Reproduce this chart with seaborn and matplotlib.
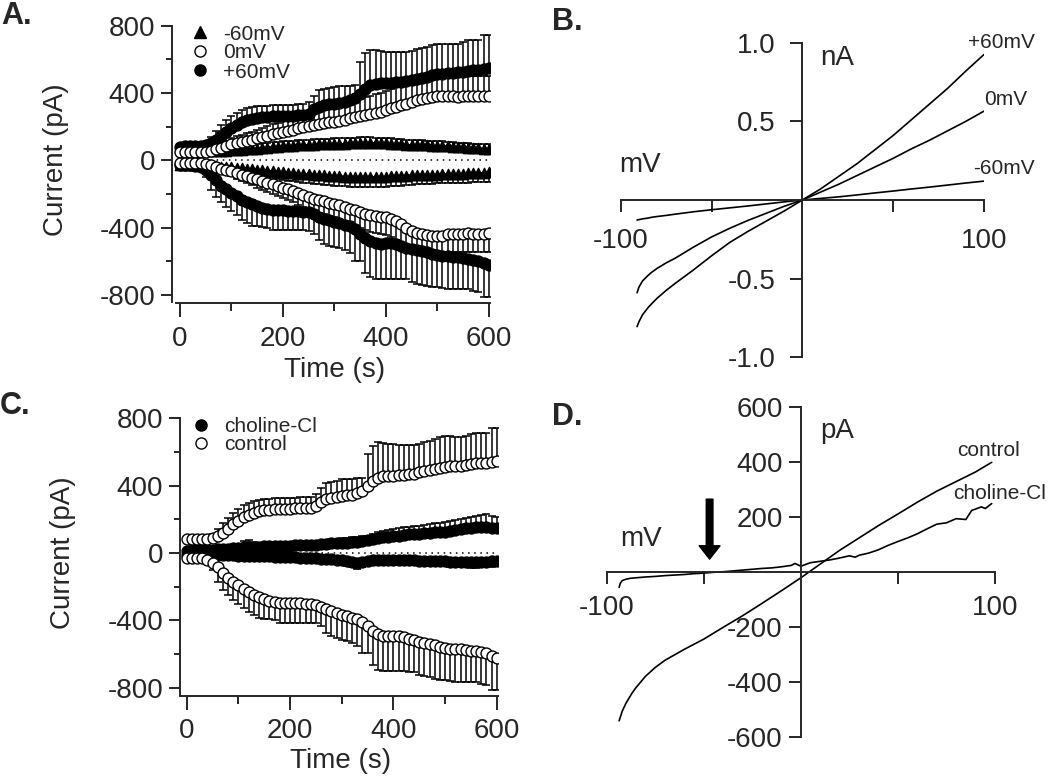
import numpy as np
import matplotlib
matplotlib.use("Agg")
import matplotlib.pyplot as plt
from matplotlib.lines import Line2D
import seaborn as sns

sns.set_style("ticks")
plt.rcParams["font.family"] = ["Liberation Sans", "DejaVu Sans"]
plt.rcParams["axes.unicode_minus"] = False

# =====================================================
# Data: time courses (A, C)
# =====================================================

time_s = [0, 10, 20, 30, 40, 50, 60, 70, 80, 90,
          100, 110, 120, 130, 140, 150, 160, 170, 180, 190,
          200, 210, 220, 230, 240, 250, 260, 270, 280, 290,
          300, 310, 320, 330, 340, 350, 360, 370, 380, 390,
          400, 410, 420, 430, 440, 450, 460, 470, 480, 490,
          500, 510, 520, 530, 540, 550, 560, 570, 580, 590,
          600]

# +60mV (same recording as "control" in C)
p60_up = [80, 82, 82, 84, 85, 90, 100, 120, 145, 170,
          192, 212, 228, 240, 248, 254, 258, 260, 262, 263,
          264, 265, 266, 268, 270, 278, 305, 318, 326, 332,
          337, 342, 347, 356, 368, 396, 426, 445, 456, 458,
          460, 462, 466, 468, 472, 478, 486, 490, 496, 504,
          512, 514, 516, 518, 522, 526, 532, 534, 536, 540,
          546]
p60_up_err = [12, 12, 12, 12, 14, 20, 40, 55, 65, 68,
              70, 70, 70, 70, 68, 66, 65, 64, 64, 64,
              64, 64, 64, 64, 64, 70, 80, 100, 98, 96,
              100, 98, 95, 88, 80, 190, 210, 212, 200, 190,
              185, 180, 178, 175, 172, 170, 175, 178, 180, 184,
              182, 178, 175, 172, 170, 180, 182, 180, 178, 204,
              198]
p60_dn = [-28, -30, -30, -32, -40, -60, -85, -120, -150, -172,
          -192, -215, -235, -248, -260, -272, -284, -292, -296, -298,
          -298, -300, -300, -302, -305, -310, -322, -336, -346, -356,
          -366, -374, -384, -392, -408, -436, -462, -482, -494, -496,
          -492, -494, -500, -510, -520, -528, -536, -540, -546, -556,
          -565, -570, -571, -572, -574, -580, -585, -590, -596, -612,
          -625]
p60_dn_err = [12, 12, 12, 12, 15, 40, 90, 100, 98, 105,
              110, 112, 118, 122, 128, 120, 110, 108, 118, 118,
              118, 116, 116, 114, 112, 108, 115, 140, 150, 152,
              150, 150, 152, 160, 188, 160, 205, 212, 210, 208,
              212, 210, 204, 196, 186, 195, 198, 200, 202, 196,
              190, 192, 193, 192, 190, 184, 180, 186, 188, 201,
              190]

# 0mV
p0_up = [50, 50, 50, 50, 50, 52, 58, 66, 76, 86,
         95, 102, 109, 116, 123, 131, 139, 147, 155, 162,
         169, 176, 183, 190, 198, 204, 210, 216, 222, 226,
         230, 236, 242, 250, 258, 265, 272, 277, 282, 290,
         298, 308, 317, 327, 337, 347, 357, 365, 373, 378,
         381, 382, 380, 381, 379, 380, 381, 380, 381, 380,
         381]
p0_up_err = [10, 10, 10, 10, 10, 12, 15, 20, 25, 30,
             35, 40, 42, 45, 48, 50, 52, 55, 58, 60,
             62, 64, 66, 68, 70, 72, 74, 76, 78, 80,
             82, 85, 88, 92, 96, 100, 104, 108, 110, 112,
             115, 116, 118, 120, 120, 122, 124, 124, 125, 124,
             122, 120, 118, 118, 120, 120, 118, 120, 118, 120,
             118]
p0_dn = [-16, -16, -16, -16, -18, -22, -30, -40, -50, -58,
         -66, -76, -86, -95, -103, -113, -123, -133, -143, -153,
         -163, -173, -183, -195, -207, -218, -228, -236, -244, -251,
         -258, -268, -278, -288, -298, -308, -317, -325, -333, -336,
         -340, -350, -362, -380, -400, -418, -430, -438, -444, -448,
         -452, -448, -440, -438, -436, -436, -434, -436, -436, -436,
         -434]
p0_dn_err = [10, 10, 10, 10, 10, 12, 15, 18, 22, 26,
             30, 34, 38, 42, 46, 50, 52, 55, 58, 60,
             62, 64, 66, 68, 70, 72, 74, 76, 78, 80,
             82, 85, 88, 90, 92, 95, 98, 100, 102, 104,
             106, 108, 110, 110, 112, 112, 114, 114, 115, 115,
             114, 112, 112, 110, 110, 112, 110, 110, 112, 110,
             110]

# -60mV
m60_up = [80, 80, 78, 75, 70, 64, 58, 55, 55, 57,
          60, 62, 64, 66, 68, 70, 72, 75, 78, 80,
          82, 84, 86, 88, 90, 90, 92, 94, 95, 96,
          97, 98, 99, 100, 101, 102, 103, 103, 102, 101,
          100, 98, 96, 94, 92, 91, 90, 89, 88, 87,
          86, 84, 82, 80, 78, 78, 76, 74, 72, 70,
          70]
m60_up_err = [12, 12, 12, 12, 12, 12, 14, 15, 16, 18,
              20, 22, 24, 25, 26, 27, 28, 28, 29, 30,
              30, 31, 31, 32, 32, 32, 33, 33, 33, 33,
              33, 33, 34, 34, 34, 34, 34, 34, 33, 33,
              32, 32, 31, 31, 30, 30, 30, 29, 29, 28,
              28, 28, 27, 27, 26, 26, 26, 25, 25, 25,
              25]
m60_dn = [-28, -28, -28, -28, -30, -32, -34, -36, -38, -40,
          -42, -45, -48, -51, -54, -57, -60, -63, -66, -69,
          -72, -75, -78, -80, -82, -84, -86, -88, -90, -92,
          -94, -96, -97, -98, -99, -100, -100, -100, -99, -98,
          -97, -96, -95, -93, -91, -90, -89, -88, -87, -86,
          -85, -84, -82, -81, -80, -79, -78, -77, -76, -74,
          -72]
m60_dn_err = [12, 12, 12, 12, 14, 16, 18, 20, 22, 24,
              26, 28, 30, 32, 34, 36, 38, 40, 42, 44,
              46, 47, 48, 49, 50, 51, 52, 53, 54, 55,
              56, 57, 58, 58, 59, 59, 60, 60, 60, 60,
              60, 59, 58, 57, 56, 55, 54, 53, 52, 52,
              52, 52, 52, 52, 53, 53, 54, 54, 55, 55,
              55]

# choline-Cl (C)
chol_up = [14, 15, 16, 17, 18, 20, 22, 24, 26, 28,
           30, 34, 36, 37, 38, 40, 40, 42, 43, 43,
           44, 45, 46, 47, 48, 50, 52, 55, 57, 58,
           60, 62, 64, 66, 70, 75, 82, 88, 93, 96,
           98, 102, 106, 110, 112, 114, 117, 120, 123, 125,
           127, 132, 137, 142, 147, 151, 152, 153, 152, 149,
           146]
chol_up_err = [10, 10, 10, 10, 10, 12, 14, 16, 18, 20,
               25, 35, 42, 30, 22, 20, 20, 20, 20, 20,
               20, 20, 20, 20, 20, 20, 20, 22, 24, 25,
               26, 27, 28, 28, 28, 28, 32, 36, 40, 42,
               44, 45, 46, 47, 48, 48, 50, 52, 54, 55,
               55, 56, 57, 58, 60, 62, 66, 70, 79, 72,
               65]
chol_dn = [-12, -12, -12, -13, -13, -13, -14, -14, -15, -15,
           -16, -17, -18, -19, -20, -20, -21, -22, -23, -24,
           -26, -27, -28, -29, -30, -32, -34, -36, -38, -40,
           -44, -48, -52, -58, -52, -46, -43, -40, -40, -40,
           -40, -41, -42, -43, -44, -45, -46, -47, -48, -49,
           -50, -51, -52, -53, -54, -55, -55, -54, -52, -49,
           -46]
chol_dn_err = [8, 8, 8, 8, 8, 9, 10, 10, 11, 12,
               12, 13, 14, 14, 15, 15, 16, 16, 17, 18,
               18, 19, 20, 20, 21, 22, 22, 23, 24, 25,
               26, 28, 32, 40, 30, 26, 25, 25, 26, 26,
               27, 27, 28, 28, 28, 29, 29, 30, 30, 30,
               30, 31, 31, 31, 32, 32, 32, 32, 32, 32,
               32]

# =====================================================
# Data: I-V ramps (B, D)
# =====================================================

b_mv = [-91, -90, -88, -85, -83, -80, -75, -70, -60, -50, -40, -30, -20,
        -10, 0, 10, 20, 30, 40, 50, 60, 70, 80, 90, 100]
b_p60 = [-0.805, -0.775, -0.73, -0.685, -0.66, -0.625, -0.575, -0.53, -0.445,
         -0.355, -0.27, -0.20, -0.135, -0.07, 0.0, 0.07, 0.15, 0.23, 0.32,
         0.41, 0.51, 0.61, 0.71, 0.82, 0.925]
b_0 = [-0.59, -0.555, -0.515, -0.48, -0.46, -0.435, -0.40, -0.37, -0.30,
       -0.235, -0.18, -0.13, -0.085, -0.04, 0.0, 0.05, 0.10, 0.155, 0.21,
       0.265, 0.325, 0.38, 0.44, 0.50, 0.565]
b_m60 = [-0.127, -0.125, -0.12, -0.115, -0.11, -0.105, -0.098, -0.09, -0.075,
         -0.062, -0.05, -0.038, -0.025, -0.012, 0.0, 0.01, 0.02, 0.032, 0.045,
         0.057, 0.07, 0.082, 0.095, 0.108, 0.12]

d_mv_ctrl = [-93.6, -92, -90, -87, -85, -80, -75, -70, -60, -50, -40,
             -30, -20, -10, 0, 10, 20, 30, 40, 50, 60, 70, 80, 90, 98.3]
d_ctrl = [-540, -505, -475, -440, -420, -378, -346, -320, -280, -243,
          -200, -158, -113, -67, -20, 30, 80, 125, 170, 212, 255, 295, 330,
          365, 400]
d_mv_chol = [-93.6, -93, -92, -90, -88, -85, -80, -75, -70, -65,
             -60, -55, -50, -45, -40, -35, -30, -25, -20, -15,
             -10, -5, -3, 0, 3, 5, 10, 15, 20, 25,
             28, 30, 35, 40, 45, 50, 55, 60, 65, 70,
             75, 80, 85, 88, 90, 93, 95, 98.3]
d_chol = [-55, -40, -30, -25, -22, -20, -17, -15, -12, -10,
          -8, -5, -3, 0, 2, 5, 8, 11, 14, 16,
          20, 25, 32, 22, 30, 35, 40, 45, 52, 60,
          55, 62, 70, 82, 98, 112, 125, 140, 158, 175,
          180, 195, 192, 225, 230, 238, 232, 250]

# =====================================================
# Figure helpers (pixel layout)
# =====================================================

W, H = 1050, 778
fig = plt.figure(figsize=(W / 100, H / 100), dpi=100)


def box(left, top, right, bottom):
    return [left / W, 1 - bottom / H, (right - left) / W, (bottom - top) / H]


def fpos(x, y):
    return (x / W, 1 - y / H)


def draw_series(ax, mean, err, side, marker, face, z):
    zeros = np.zeros(len(err))
    yerr = [zeros, err] if side == "up" else [err, zeros]
    ax.errorbar(time_s, mean, yerr=yerr, fmt="none", ecolor="black",
                elinewidth=1.1, capsize=2.6, capthick=1.1, zorder=2)
    sns.scatterplot(x=time_s, y=mean, ax=ax, marker=marker,
                    s=62 if marker == "o" else 55,
                    color=face, edgecolor="black", linewidth=1.0,
                    zorder=z, legend=False)


def style_time_axes(ax, xleft):
    ax.set_ylim(-850, 800)
    ax.set_xticks([0, 200, 400, 600])
    ax.set_xticks([100, 300, 500], minor=True)
    ax.set_yticks([-800, -400, 0, 400, 800])
    ax.set_yticks([-600, -200, 200, 600], minor=True)
    ax.tick_params(axis="x", which="major", length=10, width=1.4, pad=6,
                   labelsize=20, direction="out")
    ax.tick_params(axis="x", which="minor", length=5.5, width=1.4,
                   direction="out")
    ax.tick_params(axis="y", which="major", length=7.7, width=1.4, pad=4.5,
                   labelsize=20, direction="out")
    ax.tick_params(axis="y", which="minor", length=4.5, width=1.4,
                   direction="out")
    for s in ["top", "right"]:
        ax.spines[s].set_visible(False)
    for s in ["left", "bottom"]:
        ax.spines[s].set_linewidth(1.4)
    ax.spines["left"].set_bounds(-845, 800)
    ax.spines["bottom"].set_bounds(xleft, 602)
    ax.hlines(0, time_s[0], time_s[-1], colors="black", linewidth=1.1,
              linestyles=(0, (1, 3)), zorder=1)


def style_iv_axes(ax, yticks, ylabels, xpad, ypad):
    for s in ["top", "right"]:
        ax.spines[s].set_visible(False)
    ax.spines["left"].set_position(("data", 0))
    ax.spines["bottom"].set_position(("data", 0))
    for s in ["left", "bottom"]:
        ax.spines[s].set_linewidth(1.4)
    ax.spines["bottom"].set_bounds(-100, 100)
    ax.spines["left"].set_bounds(yticks[0], yticks[-1])
    ax.set_xticks([-100, -50, 50, 100])
    ax.set_xticklabels(["-100", "", "", "100"])
    ax.set_yticks(yticks)
    ax.set_yticklabels(ylabels)
    ax.tick_params(axis="x", length=8.5, width=1.4, pad=xpad, labelsize=20,
                   direction="out")
    ax.tick_params(axis="y", length=8.5, width=1.4, pad=ypad, labelsize=20,
                   direction="out")
    ax.set_xlabel("")
    ax.set_ylabel("")


# =====================================================
# Panel A
# =====================================================

ax_a = fig.add_axes(box(172, 25.7, 490, 303.3))
ax_a.set_xlim(-15.5, 602.5)

draw_series(ax_a, m60_up, m60_up_err, "up", "^", "black", 3)
draw_series(ax_a, m60_dn, m60_dn_err, "dn", "^", "black", 3)
draw_series(ax_a, p60_up, p60_up_err, "up", "o", "black", 4)
draw_series(ax_a, p60_dn, p60_dn_err, "dn", "o", "black", 4)
draw_series(ax_a, p0_up, p0_up_err, "up", "o", "white", 5)
draw_series(ax_a, p0_dn, p0_dn_err, "dn", "o", "white", 5)
style_time_axes(ax_a, -7)

ax_a.set_xlabel("Time (s)", fontsize=20)
ax_a.set_ylabel("Current (pA)", fontsize=20)
ax_a.xaxis.set_label_coords(*fpos(335, 357), transform=fig.transFigure)
ax_a.yaxis.set_label_coords(*fpos(69, 160), transform=fig.transFigure)

handles_a = [
    Line2D([], [], ls="none", marker="^", mfc="black", mec="black", ms=8),
    Line2D([], [], ls="none", marker="o", mfc="white", mec="black", ms=8),
    Line2D([], [], ls="none", marker="o", mfc="black", mec="black", ms=8),
]
ax_a.legend(handles_a, ["-60mV", "0mV", "+60mV"], loc="upper left",
            bbox_to_anchor=fpos(189.6, 24.5), bbox_transform=fig.transFigure,
            frameon=False, fontsize=15, handlelength=1.0, handletextpad=0.6,
            labelspacing=0.0, borderpad=0, borderaxespad=0)

# =====================================================
# Panel C
# =====================================================

ax_c = fig.add_axes(box(180, 418.3, 497.7, 696))
ax_c.set_xlim(-13, 602)

draw_series(ax_c, chol_up, chol_up_err, "up", "o", "black", 4)
draw_series(ax_c, chol_dn, chol_dn_err, "dn", "o", "black", 4)
draw_series(ax_c, p60_up, p60_up_err, "up", "o", "white", 5)
draw_series(ax_c, p60_dn, p60_dn_err, "dn", "o", "white", 5)
style_time_axes(ax_c, -13)

ax_c.set_xlabel("Time (s)", fontsize=20)
ax_c.set_ylabel("Current (pA)", fontsize=20)
ax_c.xaxis.set_label_coords(*fpos(341, 748), transform=fig.transFigure)
ax_c.yaxis.set_label_coords(*fpos(76, 553), transform=fig.transFigure)

handles_c = [
    Line2D([], [], ls="none", marker="o", mfc="black", mec="black", ms=8),
    Line2D([], [], ls="none", marker="o", mfc="white", mec="black", ms=8),
]
ax_c.legend(handles_c, ["choline-Cl", "control"], loc="upper left",
            bbox_to_anchor=fpos(191, 417), bbox_transform=fig.transFigure,
            frameon=False, fontsize=15, handlelength=1.0, handletextpad=0.6,
            labelspacing=-0.05, borderpad=0, borderaxespad=0)

# =====================================================
# Panel B
# =====================================================

ax_b = fig.add_axes(box(620.7, 42.7, 984, 357.3))
ax_b.set_xlim(-100, 100)
ax_b.set_ylim(-1, 1)
for vals in [b_p60, b_0, b_m60]:
    sns.lineplot(x=b_mv, y=vals, ax=ax_b, color="black", linewidth=1.2,
                 sort=False, estimator=None)
style_iv_axes(ax_b, [-1.0, -0.5, 0.5, 1.0], ["-1.0", "-0.5", "0.5", "1.0"],
              xpad=12, ypad=11)

ax_b.text(128, 1.0, "+60mV", fontsize=15, ha="right", va="center")
ax_b.text(124, 0.64, "0mV", fontsize=15, ha="right", va="center")
ax_b.text(128, 0.20, "-60mV", fontsize=15, ha="right", va="center")
ax_b.text(9.6, 0.90, "nA", fontsize=20, ha="left", va="center")
ax_b.text(-101, 0.22, "mV", fontsize=20, ha="left", va="center")

# =====================================================
# Panel D
# =====================================================

ax_d = fig.add_axes(box(606.7, 407.3, 995, 737.3))
ax_d.set_xlim(-100, 100)
ax_d.set_ylim(-600, 600)
sns.lineplot(x=d_mv_ctrl, y=d_ctrl, ax=ax_d, color="black", linewidth=1.2,
             sort=False, estimator=None)
sns.lineplot(x=d_mv_chol, y=d_chol, ax=ax_d, color="black", linewidth=1.2,
             sort=False, estimator=None)
style_iv_axes(ax_d, [-600, -400, -200, 200, 400, 600],
              ["-600", "-400", "-200", "200", "400", "600"], xpad=8, ypad=4.5)

ax_d.text(96.6, 442, "control", fontsize=15, ha="center", va="center")
ax_d.text(78.3, 288, "choline-Cl", fontsize=15, ha="left", va="center")
ax_d.text(9.9, 515, "pA", fontsize=20, ha="left", va="center")
ax_d.text(-93, 121, "mV", fontsize=20, ha="left", va="center")
ax_d.annotate("", xy=(-47, 48), xytext=(-47, 266),
              arrowprops=dict(facecolor="black", edgecolor="black", width=4.8,
                              headwidth=15, headlength=9.6, shrink=0))

# =====================================================
# Panel letters
# =====================================================

for letter, x, y in [("A.", 1, 1), ("B.", 552, 7), ("C.", 0, 391), ("D.", 552, 402)]:
    fig.text(*fpos(x, y), letter, fontsize=22, fontweight="bold",
             ha="left", va="top")

fig.savefig("out.png", dpi=100)
